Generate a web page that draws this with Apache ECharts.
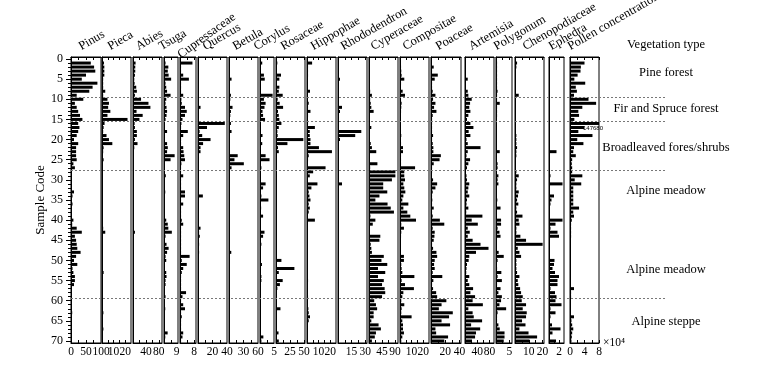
<!DOCTYPE html>
<html><head><meta charset="utf-8">
<script src="https://cdn.jsdelivr.net/npm/echarts@6/dist/echarts.min.js"></script>
<style>html,body{margin:0;padding:0;background:#fff}#c{width:761px;height:366px}</style>
</head><body><div id="c"></div><script>
// ---------------- data ----------------
const sampleCodes = Array.from({length:71},(_,i)=>String(i));
const taxa = ['Pinus','Pieca','Abies','Tsuga','Cupressaceae','Quercus','Betula','Corylus','Rosaceae','Hippophae','Rhododendron','Cyperaceae','Compositae','Poaceae','Artemisia','Polygonum','Chenopodiaceae','Ephedra','Pollen concentration'];
const axisMax = [100,25,90,10,9,40,60,5,52,25,32,100,25,42,95,6,21,3,8];
const tickLabelValues = [[0,50,100],[10,20],[40,80],[9],[8],[20,40],[30,60],[5],[25,50],[10,20],[15,30],[45,90],[10,20],[20,40],[40,80],[5],[10,20],[2],[0,4,8]];
const tickMarkValues = [[25,50,75],[5,10,15,20],[20,40,60,80],[5],[4,8],[10,20,30],[15,30,45],[2.5],[12.5,25,37.5,50],[5,10,15,20],[7.5,15,22.5,30],[22.5,45,67.5,90],[5,10,15,20],[10,20,30,40],[20,40,60,80],[2.5,5],[5,10,15,20],[1,2],[2,4,6,8]];
const zoneBoundaries = [9.5,15.5,27.5,59.5];
const vegetationTitle = 'Vegetation type';
const vegetationZones = ['Pine forest','Fir and Spruce forest','Broadleaved fores/shrubs','Alpine meadow','Alpine meadow','Alpine steppe'];

// values for samples 1..70
const pinus = [66,77,81,50,36,88,72,61,19,41, 13,19,24,30,38,24,28,24,19,10, 24,17,17,17,19,8,13,2,2,3, 2,3,10,5,2,5,1,2,3,8, 4,19,36,13,17,19,21,32,17,10, 21,5,8,13,13,10,3,2,3,2, 3,2,4,3,2,3,2,3,2,3];
const pieca = [1.7,2,2,2,1,1,1,2.8,1,4.7, 6,5.3,7.2,4.7,22,2.2,1.4,1,3.9,6, 8.9,1.4,1,0.8,1.4,0.8,0.6,0.6,0.5,0.6, 0.5,0.6,0.5,0.6,0.5,0.6,0.5,0.6,0.5,0.6, 0.8,1,2.8,0.8,0.6,0.6,0.8,0.6,0.5,0.6, 0.5,0.6,1.4,0.5,0.6,0.5,0.6,0.5,0.5,0.6, 0.5,0.6,1.2,0.5,0.6,0.5,1.2,0.5,0.6,0.5];
const abies = [8,7,7,6,4,5,10,12,6,25, 48,54,11,30,20,5,6,12,12,6, 14,4,3,3,2,3,2,1,1,1, 1,1,1,1,1,1,1,1,1,1, 2,2,6,2,1,1,2,3,1,1, 1,1,1,1,1,1,1,1,1,1, 1,1,1,1,1,1,1,1,1,1];
const tsuga = [1.1,3.1,2.7,3.3,5.1,1.1,1.6,2.2,4.7,1.6, 1.1,1.8,2.2,1.8,1.1,0.4,0.2,2.2,0.4,0.2, 2.2,2.7,2.2,7.6,4.7,0.7,0.4,0.4,1.3,0.4, 0.7,0.4,0.9,0.4,0.4,0.7,0.4,0.4,0.7,1.6, 2.7,3.1,5.6,1.1,0.7,1.8,3.3,2.2,1.1,1.6, 0.7,0.4,1.6,1.8,1.1,1.1,0.7,0.7,1.1,0.7, 0.7,0.9,0.7,0.7,0.4,0.7,0.4,2.6,0.9,0.7];
const cupressaceae = [7,0.6,0.6,1.8,5,0.6,0.6,0.6,1.8,0.8, 1,2.8,3.8,2.8,1.4,0.8,0.6,4.4,1.8,0.6, 0.6,1.8,2,2.4,2.8,0.8,0.6,0.6,1.8,0.6, 0.6,0.6,2.8,2.8,0.6,1.8,0.6,0.6,0.6,1, 1.8,0.6,0.6,0.6,0.6,0.6,0.6,0.6,5.4,1, 3.8,1.8,1,0.6,0.6,0.6,0.6,3.4,1.4,0.6, 1.8,2.8,0.6,1,0.6,0.6,0.6,1.8,1.4,0.6];
const quercus = [0.8,0.8,0.8,0.8,0.8,0.8,1,0.8,0.8,0.8, 0.8,3.5,1.2,0.8,0.8,37,12.4,2.2,5.8,17.3, 7,3.5,3.5,0.8,0.8,0.8,0.5,0.5,0.5,0.5, 0.5,0.5,0.5,6.7,0.5,0.5,0.5,0.5,0.5,0.5, 0.5,3.5,1.5,2.5,0.5,1.5,0.5,1.5,0.8,0.5, 0.5,0.5,1,0.5,0.5,0.5,0.5,0.5,0.5,0.5, 0.5,0.5,0.5,0.5,0.5,0.5,0.5,0.5,0.5,0.5];
const betula = [1.3,1.3,1.3,1.3,5.3,2,0.7,0.7,4,2.7, 1.3,7.3,4,2.7,1.3,4,2,5.3,2,2, 2,1.3,1.3,18,11.3,30.7,5.3,1.3,1,1, 1,1,1,1,1,1,1,1,1,1, 1,1,1,1,1,1,1,4.7,2,1, 2,1,1,1,1,1,1,1,1,1, 1,1,1,1,1,1,1,1,1,1];
const corylus = [0.8,0.2,0.2,1.4,1.7,0.2,0.2,0.3,4.5,1.4, 2,1.6,0.9,1.1,1.8,0.2,0.2,0.2,0.9,0.2, 0.8,0.2,0.2,2,3.4,0.2,0.5,0.2,0.2,0.2, 2,1.1,0.2,0.5,3,0.2,0.4,0.2,1.1,0.2, 0.2,0.2,1.6,1.1,0.2,0.5,0.2,0.2,0.2,0.2, 0.7,0.2,0.2,0.5,0.5,0.2,0.2,0.2,0.2,0.2, 0.2,0.2,0.2,0.2,0.2,0.2,0.2,0.2,1.2,0.5];
const rosaceae = [2.4,1.2,1.2,9,6,1.2,6,5,12,3, 6.6,12.7,3.6,5,6,9.7,5,2.4,3,49, 20.5,3.6,5,1.2,1.2,1.8,0.6,0.6,0.6,0.6, 0.6,0.6,0.6,1.2,0.6,0.6,0.6,0.6,0.6,0.6, 0.6,0.6,0.6,0.6,1.2,0.6,0.6,0.6,0.6,9.7, 1.8,33,5,0.6,12,7,2.4,0.6,0.6,0.6, 0.6,8,1.2,0.6,0.6,0.6,0.6,4.5,0.6,5];
const hippophae = [4.4,0.9,0.9,0.9,0.6,0.6,0.6,2.6,0.6,0.6, 1.5,0.9,3,0.9,0.6,0.9,6.8,2.4,2.4,3, 3,10.3,21.5,1.5,0.9,0.6,16,5.3,2.4,0.6, 9,3.8,1.5,2.1,3,1.5,2.4,1.5,0.6,6.8, 0.6,0.6,0.6,0.6,0.4,0.4,0.4,0.4,0.4,0.4, 0.4,0.4,0.4,0.4,0.9,0.4,0.4,0.4,0.9,0.4, 0.4,1.2,1.5,2.6,1.5,0.6,0.4,0.4,0.4,0.4];
const rhododendron = [0,0,0,0,2.2,0,0,0,0,0, 0,4.4,2.2,0,0,0,0,25.7,19,2.2, 0.7,0,0.7,0,0,0,0,0,0,0, 4.4,0,0,0,0,0,0,0,0,0, 0,0,0,0,0,0,0,0.5,0,0, 0,0,0,0,0.5,0,0,0,0,0, 0,0,0,0,0,0,0,0,0,0];
const cyperaceae = [2,2,2,2,2,2,2,4,10,4, 6,8,16,2,2,2,8,2,2,2, 6,10,25,3,2,29,4,91,91,79, 49,49,63,36,22,64,75,86,5,22, 13,2,2,39,36,6,8,10,51,43, 63,31,56,31,51,45,54,56,45,18, 24,28,16,16,8,33,41,24,20,10];
const compositae = [0.6,0.9,1.1,1.4,3.7,0.9,0.6,2.3,4.3,0.9, 1.4,1.1,0.9,0.6,0.6,0.6,0.6,0.6,1.1,0.6, 0.9,2.6,2.6,0.9,0.9,0.9,13,3.7,3.7,4.3, 2.9,3.7,4.6,2.9,2,7.2,2.9,6.3,8.9,13.8, 1.1,3.4,1.1,0.9,0.6,0.6,0.6,0.6,3.4,3.4, 1.1,1.4,2,12.4,1.4,4.3,12,2.9,2,1.1, 3.7,1.4,1.1,10,2,2.6,2.6,3.4,2,1.1];
const poaceae = [0.7,3.8,1.5,9.5,5.2,1.5,1.5,2.4,6.2,2.9, 6.2,4.3,7.6,2.4,1.5,1.5,1.5,1.5,2.9,1.5, 2.4,3.3,3.3,13.8,12,3.8,1.5,1.5,0.5,2.9, 8.6,6.2,2.4,1.5,1.9,1.5,3.8,1.5,2.4,12.4, 18.6,2.4,5.2,4.8,3.8,1.5,2.9,7.6,8.6,5.2, 4.3,5.2,2.4,15.8,3.3,1.5,2.9,7.2,8.6,21.5, 14.8,11,30.5,25.3,14.8,26.7,6.2,7.2,23.9,18.6];
const artemisia = [2,1,2,2,9,3,2,9,11,22, 16.6,14,17.7,11,6.6,17.7,27.6,12,17.7,5, 9,50.8,9,5,16.6,11,6.6,2,5,6.6, 14,11,9,14,6.6,5,11,4,57,22, 42,9,15.5,9,25,50.8,77,36,14,12, 6.6,5,4,14,9,14,26.5,17.7,33,25, 58.5,11,25,28.7,56,20,49.7,36,33,23];
const polygonum = [0.4,0.4,0.4,0.4,0.4,0.4,0.4,0.6,0.4,0.4, 1.4,0.4,0.4,0.4,0.3,0.3,0.3,0.3,0.3,0.3, 0.3,0.3,1.4,0.3,0.3,0.6,0.6,0.3,0.9,0.6, 0.9,0.3,0.3,0.3,0.5,0.3,1.7,0.3,0.3,1.9, 1.9,0.6,1.3,1.7,0.3,0.3,0.3,1,2.9,0.6, 0.3,0.4,2,0.6,2.2,0.4,1.7,0.9,2.2,1.9, 1.3,3.8,0.6,0.4,0.4,0.9,1.4,3.2,3.2,2.9];
const chenopodiaceae = [1.5,1,0.7,0.7,0.7,0.7,0.7,0.7,2.7,0.5, 0.5,0.5,0.5,0.5,0.5,0.5,0.5,0.5,1,1, 1,1.5,1,1,0.7,0.7,0.7,1,2.7,1.5, 1,1,2.7,2.2,1.5,2.4,1,1.5,5.4,2.7, 3.2,1,1,3.9,8,20,2,3.2,4.4,1, 1,1,1.5,3.2,2,2.4,3.7,4.4,5.6,4.9, 8,5.6,8.5,8,5.1,7.6,3.2,9.8,16,10.5];
const ephedra = [0,0,0,0,0,0,0,0,0,0, 0,0,0,0,0,0,0,0,0,0, 0,0,1.5,0,0,0,0,0,0.3,0, 2.7,0,0,1,0.5,0.3,0,0,0,2.7, 1.3,0.3,1.7,2,0.2,0,0.2,0,0,1.1, 1,0.7,1.2,2,1.7,1.7,0.3,1.2,1.5,1.3, 2.5,0.3,1.3,0.3,0.2,0.6,2.3,0.7,0.2,1.4];
const pollenConc = [4,3,2.9,2.1,1.2,4.2,1.6,1.9,1.1,5.1, 7.2,3.4,2.3,2.5,1.2,14.768,3.9,2.3,6.2,2, 3.7,1.1,0.9,1.6,0.6,0.5,0.6,0.6,3.4,1.3, 3.1,0.9,0.9,0.9,0.9,0.9,2.5,0.9,1.1,0.5, 0.3,0.3,0.3,0.3,0.2,0.2,0.2,0.2,0.2,0.2, 0.2,0.2,0.2,0.2,0.2,0.2,1.1,0.3,0.3,0.2, 0.2,0.2,0.2,1.1,0.4,0.6,0.9,0.6,0.5,0.4];
const seriesValues = [pinus,pieca,abies,tsuga,cupressaceae,quercus,betula,corylus,rosaceae,hippophae,rhododendron,cyperaceae,compositae,poaceae,artemisia,polygonum,chenopodiaceae,ephedra,pollenConc];

// ---------------- layout ----------------
const TOP = 57, H = 286;
const FONT = '"Liberation Serif","Times New Roman",serif';
const TICK_FS = 11.5;
const panelLayout = [
 {left:71,width:30,nameX:83},{left:102,width:29,nameX:112},{left:133,width:29,nameX:140},
 {left:164,width:14,nameX:163},{left:180,width:16,nameX:183,nameY:61,rot:36},{left:198,width:29,nameX:207},
 {left:229,width:29,nameX:237},{left:260,width:14,nameX:258},{left:276,width:29,nameX:285},
 {left:307,width:29,nameX:315},{left:338,width:29,nameX:345},{left:369,width:29,nameX:375},
 {left:400,width:29,nameX:407},{left:431,width:30,nameX:440},{left:465,width:29,nameX:473},
 {left:496,width:16,nameX:498},{left:515,width:29,nameX:527},{left:549,width:15,nameX:553},
 {left:570,width:29,nameX:572}
];
const vegLayout = {x:666, titleY:45, ys:[73,109,148,191,270,322]};

const grids=[], xAxes=[], yAxes=[], series=[], graphics=[];
const labelAxes = []; // one hidden grid per tick label so no label is auto-hidden
panelLayout.forEach((p,i)=>{
  const max = axisMax[i];
  grids.push({left:p.left, width:p.width, top:TOP, height:H, show:true, borderColor:'#000', borderWidth:1, backgroundColor:'transparent'});
  const bottom = {gridIndex:i, type:'value', position:'bottom', min:0, max:max,
    axisLine:{show:true, onZero:false, lineStyle:{color:'#000', width:1}},
    axisTick:{show:true, inside:true, length:3, customValues:tickMarkValues[i], lineStyle:{color:'#000', width:1}},
    axisLabel:{show:false}, splitLine:{show:false}};
  if (i === panelLayout.length-1) {
    bottom.name = '×10⁴'; bottom.nameLocation = 'end'; bottom.nameGap = 4;
    bottom.nameTextStyle = {fontFamily:FONT, fontSize:TICK_FS, color:'#000', verticalAlign:'middle', padding:[18,0,0,0]};
  }
  xAxes.push(bottom);
  xAxes.push({gridIndex:i, type:'value', position:'top', min:0, max:max,
    axisLine:{show:true, onZero:false, lineStyle:{color:'#000', width:1}},
    axisTick:{show:true, inside:true, length:3, customValues:tickMarkValues[i], lineStyle:{color:'#000', width:1}},
    axisLabel:{show:false}, splitLine:{show:false}});
  const y = {gridIndex:i, type:'category', data:sampleCodes, inverse:true, boundaryGap:true,
    axisLine:{show:true, lineStyle:{color:'#000', width:1}},
    axisTick:{show:i===0, interval:0, length:3, alignWithLabel:true, lineStyle:{color:'#000'}},
    axisLabel:{show:i===0, interval:4, margin:8, fontFamily:FONT, fontSize:12, color:'#000'},
    splitLine:{show:false}};
  if (i===0) {
    y.name = 'Sample Code'; y.nameLocation = 'middle'; y.nameGap = 24; y.nameRotate = 90;
    y.nameTextStyle = {fontFamily:FONT, fontSize:13, color:'#000'};
  }
  yAxes.push(y);
  const vals = seriesValues[i];
  const data = [null].concat(vals.map((v)=>{
    if (v > max) {
      return {value:max, label:{show:true, formatter:String(Math.round(v*10000)), position:'insideRight', distance:0, offset:[4,5], fontSize:6, fontFamily:'"Liberation Sans",Arial,sans-serif', color:'#000'}};
    }
    return v;
  }));
  series.push({type:'bar', xAxisIndex:2*i, yAxisIndex:i, data:data, barWidth:3, itemStyle:{color:'#000'}, silent:true, clip:true});
  graphics.push({type:'text', x:p.nameX, y:(p.nameY||53), rotation:(p.rot||30)*Math.PI/180,
    style:{text:taxa[i], x:0, y:0, font:'12.5px '+FONT, fill:'#000', textAlign:'left', textVerticalAlign:'bottom', align:'left', verticalAlign:'bottom'}});
  tickLabelValues[i].forEach(v=>labelAxes.push({p:p, max:max, v:v}));
});
// longer major ticks on sample axis
yAxes.push({gridIndex:0, type:'category', data:sampleCodes, inverse:true, position:'left',
  axisLine:{show:false}, axisTick:{show:true, interval:4, length:5, alignWithLabel:true, lineStyle:{color:'#000'}},
  axisLabel:{show:false}, splitLine:{show:false}});
// tick-label axes
labelAxes.forEach(la=>{
  const g = grids.length;
  grids.push({left:la.p.left, width:la.p.width, top:TOP, height:H, show:false});
  xAxes.push({gridIndex:g, type:'value', position:'bottom', min:0, max:la.max,
    axisLine:{show:false, onZero:false}, axisTick:{show:false}, splitLine:{show:false},
    axisLabel:{show:true, customValues:[la.v], margin:3, fontFamily:FONT, fontSize:TICK_FS, color:'#000'}});
  yAxes.push({gridIndex:g, type:'value', show:false});
});
// overlay grid for zone boundaries
const og = grids.length;
grids.push({left:71, width:596, top:TOP, height:H, show:false});
xAxes.push({gridIndex:og, type:'value', min:0, max:1, show:false});
yAxes.push({gridIndex:og, type:'value', min:-0.5, max:70.5, inverse:true, show:false});
series.push({type:'line', xAxisIndex:xAxes.length-1, yAxisIndex:yAxes.length-1, data:[], silent:true, z:10,
  markLine:{silent:true, symbol:['none','none'], label:{show:false}, animation:false,
    lineStyle:{type:[2,2], color:'#777', width:1},
    data: zoneBoundaries.map(b=>({yAxis:b}))}});

graphics.push({type:'text', x:vegLayout.x, y:vegLayout.titleY, style:{text:vegetationTitle, x:0,y:0, font:'12.5px '+FONT, fill:'#000', textAlign:'center', textVerticalAlign:'middle', align:'center', verticalAlign:'middle'}});
vegetationZones.forEach((t,k)=>{
  graphics.push({type:'text', x:vegLayout.x, y:vegLayout.ys[k], style:{text:t, x:0,y:0, font:'12.5px '+FONT, fill:'#000', textAlign:'center', textVerticalAlign:'middle', align:'center', verticalAlign:'middle'}});
});

const chart = echarts.init(document.getElementById('c'), null, {renderer:'canvas'});
chart.setOption({animation:false, backgroundColor:'#fff', grid:grids, xAxis:xAxes, yAxis:yAxes, series:series, graphic:graphics});
</script></body></html>
